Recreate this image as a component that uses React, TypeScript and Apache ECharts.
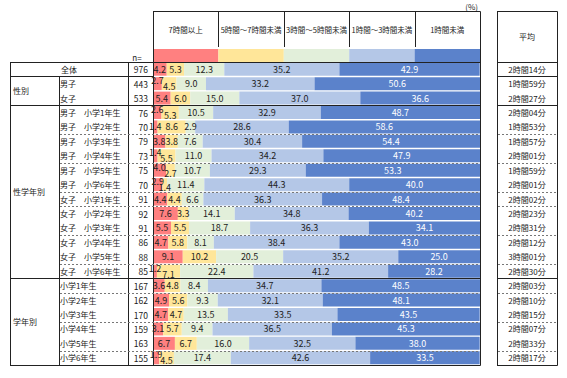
import React, { useEffect, useRef } from "react";
import * as echarts from "echarts";

const seriesNames = ["7時間以上", "5時間～7時間未満", "3時間～5時間未満", "1時間～3時間未満", "1時間未満"];
const rowKeys = [
  "全体", "男子", "女子",
  "男子　小学1年生", "男子　小学2年生", "男子　小学3年生", "男子　小学4年生", "男子　小学5年生", "男子　小学6年生",
  "女子　小学1年生", "女子　小学2年生", "女子　小学3年生", "女子　小学4年生", "女子　小学5年生", "女子　小学6年生",
  "小学1年生", "小学2年生", "小学3年生", "小学4年生", "小学5年生", "小学6年生",
];
const rowLabels = [
  "", "男子", "女子",
  "男子　小学1年生", "男子　小学2年生", "男子　小学3年生", "男子　小学4年生", "男子　小学5年生", "男子　小学6年生",
  "女子　小学1年生", "女子　小学2年生", "女子　小学3年生", "女子　小学4年生", "女子　小学5年生", "女子　小学6年生",
  "小学1年生", "小学2年生", "小学3年生", "小学4年生", "小学5年生", "小学6年生",
];
const nValues = [976, 443, 533, 76, 70, 79, 73, 75, 70, 91, 92, 91, 86, 88, 85, 167, 162, 170, 159, 163, 155];
const averages = [
  "2時間14分", "1時間59分", "2時間27分",
  "2時間04分", "1時間53分", "1時間57分", "2時間01分", "1時間59分", "2時間01分",
  "2時間02分", "2時間23分", "2時間31分", "2時間12分", "3時間01分", "2時間30分",
  "2時間03分", "2時間10分", "2時間15分", "2時間07分", "2時間33分", "2時間17分",
];
const h7plus = [4.2, 2.7, 5.4, 2.6, 1.4, 3.8, 1.4, 4.0, 2.9, 4.4, 7.6, 5.5, 4.7, 9.1, 1.2, 3.6, 4.9, 4.7, 3.1, 6.7, 1.9];
const h5to7 = [5.3, 4.5, 6.0, 5.3, 8.6, 3.8, 5.5, 2.7, 1.4, 4.4, 3.3, 5.5, 5.8, 10.2, 7.1, 4.8, 5.6, 4.7, 5.7, 6.7, 4.5];
const h3to5 = [12.3, 9.0, 15.0, 10.5, 2.9, 7.6, 11.0, 10.7, 11.4, 6.6, 14.1, 18.7, 8.1, 20.5, 22.4, 8.4, 9.3, 13.5, 9.4, 16.0, 17.4];
const h1to3 = [35.2, 33.2, 37.0, 32.9, 28.6, 30.4, 34.2, 29.3, 44.3, 36.3, 34.8, 36.3, 38.4, 35.2, 41.2, 34.7, 32.1, 33.5, 36.5, 32.5, 42.6];
const hUnder1 = [42.9, 50.6, 36.6, 48.7, 58.6, 54.4, 47.9, 53.3, 40.0, 48.4, 40.2, 34.1, 43.0, 25.0, 28.2, 48.5, 48.1, 43.5, 45.3, 38.0, 33.5];
const groups = [
  { name: "全体", first: 0, last: 0 },
  { name: "性別", first: 1, last: 2 },
  { name: "性学年別", first: 3, last: 14 },
  { name: "学年別", first: 15, last: 20 },
];

// styling / layout config
const COLORS = ["#FF8080", "#FFE699", "#E2EFDA", "#B4C7E7", "#5B82CB"];
const LABEL_COLORS = ["#222", "#222", "#222", "#222", "#ffffff"];
const STAGGER_ROWS = [1, 3, 6, 7, 8, 14, 20];
const SOLID_BOUNDS = [3, 15];
const DASHED_BOUNDS = [5, 7, 9, 10, 12, 14, 16, 18, 20];
const FONT = '"Noto Sans CJK JP", "Noto Sans", sans-serif';

const W = 567, H = 378;
const L = 153, R = 480, T = 62, B = 365;
const TBL_L = 10, COL1 = 59, COL2 = 128, HEAD_T = 11;
const AVG_L = 497, AVG_R = 557;

export default function App() {
  const ref = useRef<HTMLDivElement>(null);
  useEffect(() => {
    if (!ref.current) return;
    const chart = echarts.init(ref.current, null, { renderer: "svg" });
    const n = rowKeys.length;
    const rowH = (B - T) / n;
    const by = (k: number) => Math.round(T + rowH * k) + 0.5;
    const solid = { stroke: "#222", lineWidth: 1 };
    const dashed = { stroke: "#777", lineWidth: 1, lineDash: [2, 2] };
    const line = (x1: number, y1: number, x2: number, y2: number, style: any) => ({
      type: "line", silent: true, z: 100, shape: { x1, y1, x2, y2 }, style,
    });
    const text = (t: string, x: number, y: number, align: string, size = 8) => ({
      type: "text", silent: true, z: 100,
      style: { text: t, x, y, textAlign: align, textVerticalAlign: "middle", fill: "#1a1a1a", font: `${size}px ${FONT}` },
    });
    const g: any[] = [];
    // left table
    g.push(line(TBL_L + 0.5, T + 0.5, TBL_L + 0.5, B + 0.5, solid));
    g.push(line(TBL_L, T + 0.5, R, T + 0.5, solid));
    g.push(line(TBL_L, B + 0.5, R + 0.5, B + 0.5, solid));
    g.push(line(COL1 + 0.5, by(1), COL1 + 0.5, B, solid));
    g.push(line(COL2 + 0.5, T, COL2 + 0.5, B, solid));
    g.push(line(L + 0.5, HEAD_T + 0.5, L + 0.5, B, solid));
    g.push(line(R + 0.5, HEAD_T + 0.5, R + 0.5, B + 0.5, solid));
    g.push(line(L, HEAD_T + 0.5, R + 0.5, HEAD_T + 0.5, solid));
    g.push(line(TBL_L, by(1), L, by(1), solid));
    SOLID_BOUNDS.forEach((k) => g.push(line(TBL_L, by(k), R, by(k), solid)));
    DASHED_BOUNDS.forEach((k) => g.push(line(COL1 + 1, by(k), R, by(k), dashed)));
    // header
    const colW = (R - L) / 5;
    seriesNames.forEach((s, i) => {
      if (i > 0) g.push(line(Math.round(L + colW * i) + 0.5, HEAD_T, Math.round(L + colW * i) + 0.5, 47, solid));
      g.push(text(s, L + colW * (i + 0.5), 29, "center", 7.5));
      g.push({
        type: "rect", silent: true, z: 90,
        shape: { x: L + colW * i, y: 49, width: colW, height: T - 49 },
        style: { fill: COLORS[i] },
      });
    });
    g.push(text("n=", 137, 57, "center", 8));
    g.push(text("(%)", 478, 6, "right", 8));
    // group labels
    groups.forEach((gr) => {
      const cy = T + rowH * ((gr.first + gr.last + 1) / 2);
      if (gr.first === gr.last) g.push(text(gr.name, (TBL_L + COL2) / 2, cy, "center"));
      else g.push(text(gr.name, TBL_L + 3, cy, "left"));
    });
    // avg box
    g.push(line(AVG_L + 0.5, HEAD_T + 0.5, AVG_L + 0.5, B + 0.5, solid));
    g.push(line(AVG_R + 0.5, HEAD_T + 0.5, AVG_R + 0.5, B + 0.5, solid));
    g.push(line(AVG_L, HEAD_T + 0.5, AVG_R + 0.5, HEAD_T + 0.5, solid));
    g.push(line(AVG_L, T + 0.5, AVG_R + 0.5, T + 0.5, solid));
    g.push(line(AVG_L, B + 0.5, AVG_R + 0.5, B + 0.5, solid));
    [1, ...SOLID_BOUNDS].forEach((k) => g.push(line(AVG_L, by(k), AVG_R, by(k), solid)));
    DASHED_BOUNDS.forEach((k) => g.push(line(AVG_L + 1, by(k), AVG_R, by(k), dashed)));
    g.push(text("平均", (AVG_L + AVG_R) / 2, 36, "center", 8));

    const seriesData = [h7plus, h5to7, h3to5, h1to3, hUnder1];
    const option: any = {
      animation: false,
      grid: { left: L, right: W - R, top: T, bottom: H - B, containLabel: false },
      xAxis: { type: "value", min: 0, max: 100, show: false },
      yAxis: [
        {
          type: "category", inverse: true, data: rowKeys, position: "left",
          axisLine: { show: false }, axisTick: { show: false }, splitLine: { show: false },
          axisLabel: {
            margin: 5, interval: 0,
            formatter: (_v: string, i: number) => `{a|${rowLabels[i] || " "}}{n|${nValues[i]}}`,
            rich: {
              a: { width: 66, align: "left", fontSize: 8, fontFamily: FONT, color: "#1a1a1a" },
              n: { width: 22, align: "right", fontSize: 8.5, fontFamily: FONT, color: "#1a1a1a" },
            },
          },
        },
        {
          type: "category", inverse: true, data: rowKeys, position: "right",
          axisLine: { show: false }, axisTick: { show: false }, splitLine: { show: false },
          axisLabel: {
            margin: 47, align: "center", interval: 0,
            formatter: (_v: string, i: number) => averages[i],
            fontSize: 8, fontFamily: FONT, color: "#1a1a1a",
          },
        },
      ],
      series: seriesData.map((arr, si) => ({
        name: seriesNames[si],
        type: "bar",
        stack: "total",
        yAxisIndex: 0,
        barCategoryGap: "10%",
        itemStyle: { color: COLORS[si] },
        label: {
          show: true, position: "inside", fontSize: 9, fontFamily: FONT,
          color: LABEL_COLORS[si],
          formatter: (p: any) => Number(p.value).toFixed(1),
        },
        data: arr.map((v, i) => {
          if (si < 2 && STAGGER_ROWS.includes(i)) {
            return { value: v, label: { offset: [0, si === 0 ? -3 : 3] } };
          }
          return v;
        }),
      })),
      graphic: g,
    };
    chart.setOption(option);
    return () => chart.dispose();
  }, []);
  return <div ref={ref} style={{ position: "absolute", left: 0, top: 0, width: W, height: H, background: "#fff" }} />;
}
